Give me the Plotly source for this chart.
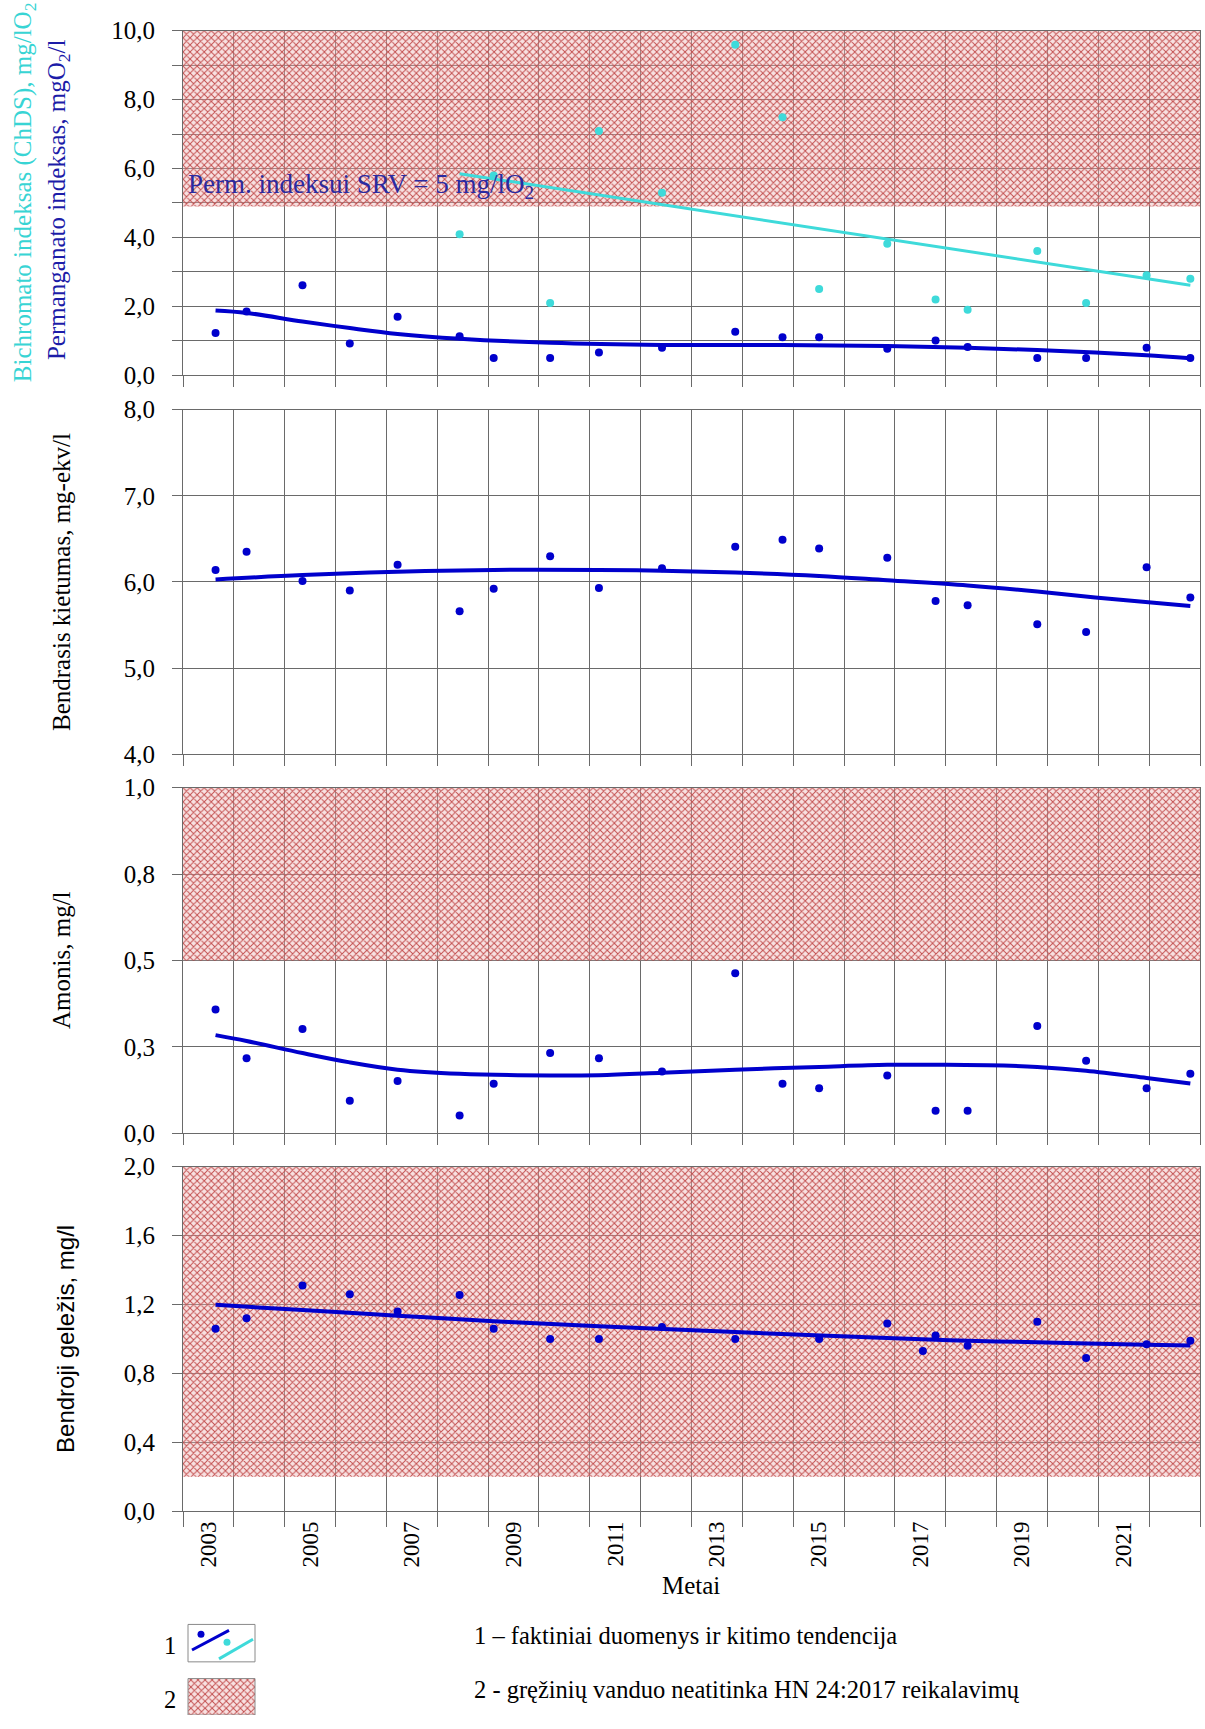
import plotly.graph_objects as go

W, H = 1205, 1729

# ---------------- data ----------------
YEARS = [2003.64, 2004.25, 2005.35, 2006.28, 2007.22, 2008.44, 2009.11, 2010.22, 2011.18, 2012.42,
         2013.86, 2014.79, 2015.51, 2016.85, 2017.80, 2018.43, 2019.80, 2020.76, 2021.95, 2022.81]
YEARS_FE = [2003.64, 2004.25, 2005.35, 2006.28, 2007.22, 2008.44, 2009.11, 2010.22, 2011.18, 2012.42,
            2013.86, 2015.51, 2016.85, 2017.55, 2017.80, 2018.43, 2019.80, 2020.76, 2021.95, 2022.81]

PERM = [1.23, 1.85, 2.61, 0.92, 1.70, 1.13, 0.50, 0.50, 0.66, 0.80,
        1.26, 1.10, 1.10, 0.77, 1.01, 0.82, 0.50, 0.50, 0.80, 0.50]
CHDS = [None, None, None, None, None, 4.09, 5.80, 2.10, 7.09, 5.30,
        9.59, 7.49, 2.50, 3.82, 2.20, 1.90, 3.61, 2.10, 2.90, 2.80]
HARD = [6.14, 6.35, 6.01, 5.90, 6.20, 5.66, 5.92, 6.30, 5.93, 6.16,
        6.41, 6.49, 6.39, 6.28, 5.78, 5.73, 5.51, 5.42, 6.17, 5.82]
NH4 = [0.358, 0.217, 0.302, 0.094, 0.151, 0.051, 0.143, 0.232, 0.217, 0.179,
       0.463, 0.143, 0.130, 0.167, 0.065, 0.065, 0.310, 0.210, 0.130, 0.172]
FE = [1.06, 1.12, 1.31, 1.26, 1.16, 1.255, 1.06, 1.00, 1.00, 1.07,
      1.00, 1.00, 1.09, 0.93, 1.02, 0.96, 1.10, 0.89, 0.97, 0.99]

# trend lines
PERM_TX = [2003.64, 2004.25, 2005.35, 2006.28, 2007.22, 2008.44, 2010.22, 2012.42, 2014.79,
           2016.85, 2018.43, 2019.80, 2020.94, 2021.95, 2022.81]
PERM_TY = [1.88, 1.81, 1.56, 1.37, 1.20, 1.06, 0.94, 0.88, 0.88, 0.85, 0.80, 0.73, 0.66, 0.58, 0.49]
CHDS_TX = [2008.44, 2022.81]
CHDS_TY = [5.85, 2.61]
HARD_TX = [2003.64, 2005.35, 2007.22, 2009.11, 2011.18, 2012.42, 2013.86, 2015.51, 2016.85,
           2018.43, 2019.80, 2020.94, 2022.81]
HARD_TY = [6.03, 6.08, 6.12, 6.14, 6.14, 6.13, 6.11, 6.07, 6.02, 5.96, 5.89, 5.82, 5.72]
NH4_TX = [2003.64, 2004.25, 2005.35, 2006.28, 2007.22, 2008.44, 2010.22, 2011.18, 2012.42,
          2013.86, 2015.51, 2016.85, 2018.00, 2019.14, 2019.80, 2020.76, 2021.95, 2022.81]
NH4_TY = [0.284, 0.267, 0.232, 0.205, 0.184, 0.172, 0.167, 0.168, 0.175, 0.184, 0.192, 0.198,
          0.198, 0.196, 0.192, 0.181, 0.160, 0.144]
FE_TX = [2003.64, 2005.35, 2007.22, 2009.11, 2011.18, 2013.86, 2016.85, 2018.43, 2019.80, 2021.95, 2022.81]
FE_TY = [1.198, 1.168, 1.135, 1.103, 1.074, 1.04, 1.006, 0.99, 0.981, 0.966, 0.962]

# limit (non-compliance) bands
PERM_BAND = [4.9, 10.0]
NH4_BAND = [0.5, 1.0]
FE_BAND = [0.2, 2.0]

X_RANGE = [2003, 2023]
YEAR_LABELS = ["2003", "2005", "2007", "2009", "2011", "2013", "2015", "2017", "2019", "2021"]

# ---------------- styling ----------------
SERIF = "'Liberation Serif', 'Times New Roman', Times, serif"
SANS = "'Liberation Sans', Arial, sans-serif"
BLUE = "#0000CC"
CYAN = "#3EDADA"
GRID = "#6a6a6a"
HATCH = dict(shape="x", size=5, solidity=0.35, fgcolor="#C24E4E",
             bgcolor="rgba(238,180,180,0.40)", fgopacity=1)

PANELS = [(18, 368), (403, 753), (787, 1138), (1172, 1522)]
PX_L, PX_R = 183, 1200


def py(p):
    return 1 - p / H


def px(p):
    return p / W


fig = go.Figure()


def band(lo_hi, xa, ya):
    lo, hi = lo_hi
    x0, x1 = X_RANGE
    fig.add_trace(go.Scatter(x=[x0, x1, x1, x0, x0], y=[lo, lo, hi, hi, lo], mode="none",
                             fill="toself", fillcolor="rgba(0,0,0,0)", fillpattern=HATCH,
                             xaxis=xa, yaxis=ya, hoverinfo="skip", showlegend=False))


def pts(x, y, color, xa, ya, size=8):
    fig.add_trace(go.Scatter(x=x, y=y, mode="markers", marker=dict(color=color, size=size),
                             xaxis=xa, yaxis=ya, showlegend=False))


def trend(x, y, color, xa, ya, width=4, shape="spline"):
    fig.add_trace(go.Scatter(x=x, y=y, mode="lines", line=dict(color=color, width=width, shape=shape,
                                                               smoothing=1.0),
                             xaxis=xa, yaxis=ya, showlegend=False))


# panel 1
band(PERM_BAND, "x", "y")
pts(YEARS, CHDS, CYAN, "x", "y")
pts(YEARS, PERM, BLUE, "x", "y")
trend(CHDS_TX, CHDS_TY, CYAN, "x", "y", width=3, shape="linear")
trend(PERM_TX, PERM_TY, BLUE, "x", "y")
# panel 2
pts(YEARS, HARD, BLUE, "x2", "y2")
trend(HARD_TX, HARD_TY, BLUE, "x2", "y2")
# panel 3
band(NH4_BAND, "x3", "y3")
pts(YEARS, NH4, BLUE, "x3", "y3")
trend(NH4_TX, NH4_TY, BLUE, "x3", "y3")
# panel 4
band(FE_BAND, "x4", "y4")
pts(YEARS_FE, FE, BLUE, "x4", "y4")
trend(FE_TX, FE_TY, BLUE, "x4", "y4")

ytickfont = dict(family=SERIF, size=25, color="black")
xtickfont = dict(family=SERIF, size=23, color="black")


def xaxis_cfg(i, show):
    return dict(domain=[px(PX_L), px(PX_R)], range=X_RANGE, anchor="y" if i == 1 else f"y{i}",
                tickvals=[int(s) + 0.5 for s in YEAR_LABELS], ticktext=YEAR_LABELS,
                showticklabels=show, ticks="", showgrid=False, zeroline=False,
                tickangle=-90, tickfont=xtickfont,
                minor=dict(tick0=2003, dtick=1, showgrid=True, gridcolor=GRID, gridwidth=1,
                           ticks="outside", ticklen=15 if show else 11, tickcolor=GRID, tickwidth=1),
                showline=True, mirror=True, linecolor=GRID, linewidth=1, fixedrange=True)


def yaxis_cfg(i, rng, tickvals, ticktext, minor_dtick=None):
    top, bot = PANELS[i - 1]
    d = dict(domain=[py(bot), py(top)], range=rng, anchor="x" if i == 1 else f"x{i}",
             tickvals=tickvals, ticktext=ticktext, ticks="outside", ticklen=10, tickcolor=GRID,
             showgrid=True, gridcolor=GRID, gridwidth=1, zeroline=False, tickfont=ytickfont,
             showline=True, mirror=True, linecolor=GRID, linewidth=1, ticklabelstandoff=12,
             fixedrange=True)
    if minor_dtick:
        d["minor"] = dict(tick0=rng[0], dtick=minor_dtick, showgrid=True, gridcolor=GRID, gridwidth=1,
                          ticks="outside", ticklen=10, tickcolor=GRID)
    return d


P1_TICKS = [0, 2, 4, 6, 8, 10]
P2_TICKS = [4, 5, 6, 7, 8]
P3_TICKS = [0, 0.25, 0.5, 0.75, 1.0]
P3_LABELS = ["0,0", "0,3", "0,5", "0,8", "1,0"]
P4_TICKS = [0, 0.4, 0.8, 1.2, 1.6, 2.0]


def fmt(v):
    return f"{v:.1f}".replace(".", ",")


annotations = []


def ann(text, x, y, size=25, color="black", family=SERIF, angle=0, xanchor="center", **kw):
    annotations.append(dict(text=text, x=x, y=y, xref=kw.pop("xref", "paper"), yref=kw.pop("yref", "paper"),
                            showarrow=False, textangle=angle, xanchor=xanchor, yanchor="middle",
                            font=dict(family=family, size=size, color=color), **kw))


ann("Bichromato indeksas (ChDS), mg/lO<sub>2</sub>", px(24), py(182), color="#38D4D4", angle=-90)
ann("Permanganato indeksas, mgO<sub>2</sub>/l", px(58), py(190), color="#1C1CA8", angle=-90)
ann("Bendrasis kietumas, mg-ekv/l", px(62), py(578), angle=-90)
ann("Amonis, mg/l", px(62), py(962), angle=-90)
ann("Bendroji geležis, mg/l", px(66), py(1347), size=24, family=SANS, angle=-90)
ann("Perm. indeksui SRV = 5 mg/lO<sub>2</sub>", 2003.06, 5.49, size=27, color="#2A2AA0",
    xanchor="left", xref="x", yref="y")
ann("Metai", px(691), py(1597))
ann("1", px(170), py(1658), size=24.5)
ann("2", px(170), py(1713), size=24.5)
ann("1 – faktiniai duomenys ir kitimo tendencija", px(472), py(1648), size=24.5, xanchor="left")
ann("2 - gręžinių vanduo neatitinka HN 24:2017 reikalavimų", px(472), py(1703), size=24.5, xanchor="left")

# legend glyph area (pixel coordinates)
fig.add_trace(go.Scatter(x=[188, 255, 255, 188, 188], y=[1637, 1637, 1675, 1675, 1637], mode="lines",
                         line=dict(color="#8a8a8a", width=1), fill="toself", fillcolor="white",
                         xaxis="x5", yaxis="y5", showlegend=False, hoverinfo="skip"))
fig.add_trace(go.Scatter(x=[192, 229], y=[1663, 1643], mode="lines", line=dict(color=BLUE, width=3),
                         xaxis="x5", yaxis="y5", showlegend=False, hoverinfo="skip"))
fig.add_trace(go.Scatter(x=[219, 253], y=[1672, 1652], mode="lines", line=dict(color=CYAN, width=3),
                         xaxis="x5", yaxis="y5", showlegend=False, hoverinfo="skip"))
fig.add_trace(go.Scatter(x=[201], y=[1647], mode="markers", marker=dict(color=BLUE, size=7),
                         xaxis="x5", yaxis="y5", showlegend=False, hoverinfo="skip"))
fig.add_trace(go.Scatter(x=[227], y=[1655], mode="markers", marker=dict(color=CYAN, size=7),
                         xaxis="x5", yaxis="y5", showlegend=False, hoverinfo="skip"))
fig.add_trace(go.Scatter(x=[188, 255, 255, 188, 188], y=[1692, 1692, 1729, 1729, 1692], mode="lines",
                         line=dict(color="#8a8a8a", width=1), fill="toself", fillcolor="rgba(0,0,0,0)",
                         fillpattern=HATCH, xaxis="x5", yaxis="y5", showlegend=False, hoverinfo="skip"))

fig.update_layout(
    width=W, height=H, margin=dict(l=0, r=0, t=0, b=0),
    paper_bgcolor="white", plot_bgcolor="rgba(0,0,0,0)",
    separators=", ", showlegend=False,
    font=dict(family=SERIF, size=24, color="black"),
    xaxis=xaxis_cfg(1, False),
    xaxis2=xaxis_cfg(2, False),
    xaxis3=xaxis_cfg(3, False),
    xaxis4=xaxis_cfg(4, True),
    yaxis=yaxis_cfg(1, [0, 10], P1_TICKS, [fmt(v) for v in P1_TICKS], minor_dtick=1),
    yaxis2=yaxis_cfg(2, [4, 8], P2_TICKS, [fmt(v) for v in P2_TICKS]),
    yaxis3=yaxis_cfg(3, [0, 1], P3_TICKS, P3_LABELS),
    yaxis4=yaxis_cfg(4, [0, 2], P4_TICKS, [fmt(v) for v in P4_TICKS]),
    xaxis5=dict(domain=[0, 1], range=[0, W], visible=False, anchor="y5", fixedrange=True),
    yaxis5=dict(domain=[0, py(1600)], range=[H, 1600], visible=False, anchor="x5", fixedrange=True),
    annotations=annotations,
)

fig.write_html("out.html", config={"displayModeBar": False},
               post_script="document.body.style.margin='0px';document.body.style.overflow='hidden';")
